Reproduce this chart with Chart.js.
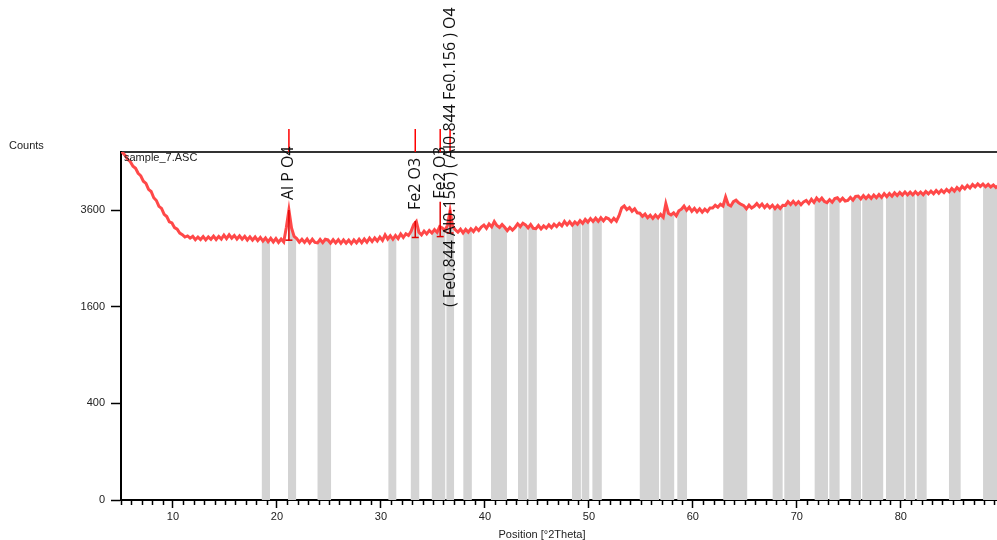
<!DOCTYPE html>
<html>
<head>
<meta charset="utf-8">
<title>sample_7.ASC</title>
<script src="https://cdn.jsdelivr.net/npm/chart.js@4.4.1/dist/chart.umd.min.js"></script>
<style>
  html, body { margin: 0; padding: 0; background: #fff; }
  #wrap { width: 997px; height: 540px; }
</style>
</head>
<body>
<div id="wrap"><canvas id="scan" width="997" height="540"></canvas></div>
<script>
// scan settings (2theta start / step, degrees)
const startAngle = 4.9;
const angleStep = 0.25;

// measured counts, one row per degree
const counts = [
  5268, 5165, 5080, 4960,
  4900, 4770, 4710, 4570,
  4500, 4350, 4290, 4130,
  4075, 3910, 3840, 3690,
  3640, 3495, 3440, 3310,
  3285, 3175, 3140, 3050,
  3015, 2960, 2985, 2935,
  2975, 2900, 2960, 2905,
  2970, 2895, 2965, 2910,
  2980, 2905, 2975, 2915,
  3005, 2925, 3010, 2935,
  2995, 2915, 2985, 2910,
  2975, 2895, 2965, 2890,
  2960, 2880, 2950, 2870,
  2940, 2855, 2930, 2850,
  2925, 2840, 2915, 2850,
  3180, 3600, 3170, 2975,
  2925, 2845, 2910, 2840,
  2915, 2830, 2910, 2840,
  2830, 2905, 2835, 2910,
  2895, 2825, 2900, 2830,
  2900, 2820, 2895, 2825,
  2890, 2815, 2895, 2830,
  2910, 2835, 2915, 2845,
  2935, 2860, 2940, 2870,
  2960, 2885, 3010, 2915,
  2990, 2910, 2995, 2925,
  3030, 2950, 3035, 2995,
  3090, 3250, 3320, 3070,
  3010, 3095, 3030, 3110,
  3050, 3130, 3065, 3200,
  3165, 3110, 3230, 3580,
  3210, 3125, 3070, 3140,
  3055, 3135, 3070, 3150,
  3085, 3170, 3110, 3190,
  3235, 3160, 3260, 3195,
  3320, 3225, 3180, 3250,
  3185, 3105, 3180, 3120,
  3180, 3265, 3200, 3280,
  3240, 3170, 3250, 3160,
  3150, 3225, 3145, 3215,
  3165, 3240, 3175, 3255,
  3200, 3275, 3215, 3320,
  3240, 3315, 3235, 3310,
  3255, 3340, 3275, 3370,
  3305, 3390, 3320, 3400,
  3325, 3410, 3335, 3415,
  3385, 3315, 3395, 3330,
  3460, 3650, 3700, 3610,
  3660, 3570, 3630, 3530,
  3520, 3445, 3500, 3410,
  3470, 3395, 3475, 3405,
  3490, 3420, 3760, 3520,
  3480, 3530, 3455, 3580,
  3620, 3700, 3595, 3670,
  3570, 3640, 3555, 3630,
  3545, 3620, 3560, 3650,
  3650, 3720, 3670, 3745,
  3700, 3930, 3740, 3700,
  3810, 3850, 3780, 3740,
  3710, 3630, 3720, 3650,
  3690, 3760, 3680, 3750,
  3660, 3730, 3655, 3720,
  3635, 3710, 3640, 3720,
  3715, 3810, 3740, 3820,
  3740, 3810, 3730, 3805,
  3840, 3765, 3870, 3790,
  3905, 3830, 3900, 3815,
  3785, 3860, 3795, 3890,
  3910, 3830, 3900, 3825,
  3840, 3920, 3850, 3945,
  3955, 3880, 3965, 3890,
  3970, 3895, 3980, 3910,
  3995, 3920, 4015, 3940,
  4020, 3950, 4040, 3970,
  4050, 3980, 4060, 3985,
  4055, 3985, 4065, 3995,
  4060, 3990, 4075, 4010,
  4085, 4015, 4100, 4030,
  4110, 4045, 4130, 4065,
  4155, 4085, 4180, 4110,
  4210, 4145, 4235, 4165,
  4260, 4195, 4275, 4210,
  4270, 4200, 4265, 4195,
  4250, 4180, 4235, 4175,
];

// excluded / background ranges [from, to] in 2theta
const bands = [
  [18.52, 19.33], [21.06, 21.86], [23.88, 25.22], [30.70, 31.50],
  [32.85, 33.71], [34.87, 36.21], [36.28, 37.05], [37.91, 38.75],
  [40.58, 42.12], [43.17, 44.10], [44.16, 45.00], [48.37, 49.23],
  [49.29, 50.06], [50.32, 51.25], [54.87, 56.76], [56.86, 58.23],
  [58.49, 59.45], [62.91, 65.25], [67.65, 68.65], [68.78, 70.32],
  [71.69, 73.01], [73.11, 74.13], [75.22, 76.18], [76.28, 78.33],
  [78.56, 80.35], [80.44, 81.40], [81.50, 82.50], [84.62, 85.77],
  [87.91, 89.60],
];

// identified peaks
const peakPositions = [21.15, 33.3, 35.7, 36.65];
const peakTops = [3600, 3330, 3810, 3600];
const peakBases = [2890, 2950, 2970, 3050];
const peakLabels = [
  'Al P O4',
  'Fe2 O3',
  'Fe2 O3',
  '( Fe0.844 Al0.156 ) ( Al0.844 Fe0.156 ) O4',
];
const labelLift = [10, 11, 3, -97];

const xTicks = [10, 20, 30, 40, 50, 60, 70, 80];
const yTicks = [0, 400, 1600, 3600];

// square-root intensity axis
class SqrtScale extends Chart.LinearScale {
  getPixelForValue(value) {
    if (value === null || value === undefined || Number.isNaN(value)) return NaN;
    const lo = Math.sqrt(this.min);
    const hi = Math.sqrt(this.max);
    return this.getPixelForDecimal((Math.sqrt(Math.max(value, 0)) - lo) / (hi - lo));
  }

  getValueForPixel(pixel) {
    const lo = Math.sqrt(this.min);
    const hi = Math.sqrt(this.max);
    const s = lo + this.getDecimalForPixel(pixel) * (hi - lo);
    return s * s;
  }
}
SqrtScale.id = 'sqrt';
SqrtScale.defaults = Chart.LinearScale.defaults;
Chart.register(SqrtScale);

const angles = counts.map((_, i) => +(startAngle + i * angleStep).toFixed(2));
const scanPoints = counts.map((c, i) => ({ x: angles[i], y: c }));

// lower of the two samples around an edge, so the fill stays under the line
const edgeValue = (t) => {
  const k = (t - startAngle) / angleStep;
  const a = counts[Math.max(0, Math.floor(k))];
  const b = counts[Math.min(counts.length - 1, Math.ceil(k))];
  return Math.min(a, b);
};

const bandPoints = [];
bands.forEach(([from, to]) => {
  bandPoints.push({ x: from, y: edgeValue(from) });
  angles.forEach((a, i) => {
    if (a > from && a < to) bandPoints.push({ x: a, y: counts[i] });
  });
  bandPoints.push({ x: to, y: edgeValue(to) });
  bandPoints.push({ x: to, y: null });
});

const markerPoints = [];
peakPositions.forEach((p, i) => {
  markerPoints.push({ x: p, y: peakBases[i] });
  markerPoints.push({ x: p, y: peakTops[i] });
  markerPoints.push({ x: p, y: null });
});

const annotate = {
  id: 'annotate',
  afterDraw(chart) {
    const { ctx, chartArea } = chart;
    const x = chart.scales.x;
    const y = chart.scales.y;
    ctx.save();

    // minor ticks every degree
    ctx.strokeStyle = '#000';
    ctx.lineWidth = 1.5;
    for (let v = Math.ceil(x.min); v <= x.max; v += 1) {
      if (v % 10 === 0) continue;
      const px = Math.round(x.getPixelForValue(v)) + 0.5;
      ctx.beginPath();
      ctx.moveTo(px, chartArea.bottom + 1);
      ctx.lineTo(px, chartArea.bottom + 5);
      ctx.stroke();
    }

    // reference sticks above the frame
    ctx.strokeStyle = '#ff0000';
    ctx.lineWidth = 1.5;
    peakPositions.forEach((p) => {
      const px = x.getPixelForValue(p);
      ctx.beginPath();
      ctx.moveTo(px, chartArea.top - 23);
      ctx.lineTo(px, chartArea.top);
      ctx.stroke();
    });

    // phase names, written upwards
    ctx.fillStyle = '#111';
    ctx.font = '16px "Open Sans"';
    ctx.textAlign = 'left';
    ctx.textBaseline = 'middle';
    peakLabels.forEach((label, i) => {
      const px = x.getPixelForValue(peakPositions[i]);
      const py = y.getPixelForValue(peakTops[i]) - labelLift[i];
      ctx.save();
      ctx.translate(px, py);
      ctx.rotate(-Math.PI / 2);
      ctx.fillText(label, 0, 0);
      ctx.restore();
    });

    ctx.font = '11px "Liberation Sans", Arial, sans-serif';
    ctx.fillStyle = '#222';
    ctx.fillText('Counts', 9, 146);
    ctx.fillText('sample_7.ASC', chartArea.left + 3, 158);
    ctx.textAlign = 'center';
    ctx.fillText('Position [°2Theta]', 542, 535);
    ctx.restore();
  },
};

Chart.defaults.font.family = '"Liberation Sans", Arial, sans-serif';
Chart.defaults.font.size = 11;
Chart.defaults.color = '#222';

new Chart(document.getElementById('scan'), {
  type: 'line',
  data: {
    datasets: [
      {
        data: markerPoints,
        xAxisID: 'x',
        borderColor: '#e00000',
        borderWidth: 1.5,
        pointStyle: 'line',
        pointRadius: (ctx) => (ctx.dataIndex % 3 === 0 ? 3.5 : 0),
        pointBorderColor: '#e00000',
        pointBorderWidth: 1.5,
        fill: false,
      },
      {
        data: scanPoints,
        xAxisID: 'x',
        borderColor: '#ff4848',
        borderWidth: 3,
        pointRadius: 0,
        tension: 0,
        fill: false,
      },
      {
        data: bandPoints,
        xAxisID: 'x',
        borderWidth: 0,
        borderColor: 'rgba(0,0,0,0)',
        backgroundColor: '#d3d3d3',
        pointRadius: 0,
        fill: 'origin',
      },
    ],
  },
  options: {
    responsive: false,
    animation: false,
    layout: {
      autoPadding: false,
      padding: { top: 152, left: 0, right: 0, bottom: 0 },
    },
    plugins: {
      legend: { display: false },
      tooltip: { enabled: false },
    },
    scales: {
      x: {
        type: 'linear',
        position: 'bottom',
        min: 5,
        max: 89.25,
        afterBuildTicks: (s) => { s.ticks = xTicks.map((v) => ({ value: v })); },
        afterFit: (s) => {
          s.height = 40;
          s.paddingLeft = 0;
          s.paddingRight = 0;
        },
        ticks: { callback: (v) => String(v), maxRotation: 0, padding: 2, color: '#222' },
        grid: { drawOnChartArea: false, tickLength: 8, tickWidth: 1.5, tickColor: '#000' },
        border: { color: '#000', width: 2 },
      },
      xTop: {
        type: 'linear',
        position: 'top',
        min: 5,
        max: 89.25,
        afterFit: (s) => {
          s.height = 0;
          s.paddingLeft = 0;
          s.paddingRight = 0;
        },
        ticks: { display: false },
        grid: { display: false },
        border: { color: '#333', width: 2 },
      },
      y: {
        type: 'sqrt',
        min: 0,
        max: 5184,
        afterBuildTicks: (s) => { s.ticks = yTicks.map((v) => ({ value: v })); },
        afterFit: (s) => { s.width = 121; },
        ticks: { callback: (v) => String(v), padding: 6, color: '#222' },
        grid: { drawOnChartArea: false, tickLength: 10, tickWidth: 1.5, tickColor: '#000' },
        border: { color: '#000', width: 2 },
      },
    },
  },
  plugins: [annotate],
});
</script>
</body>
</html>
